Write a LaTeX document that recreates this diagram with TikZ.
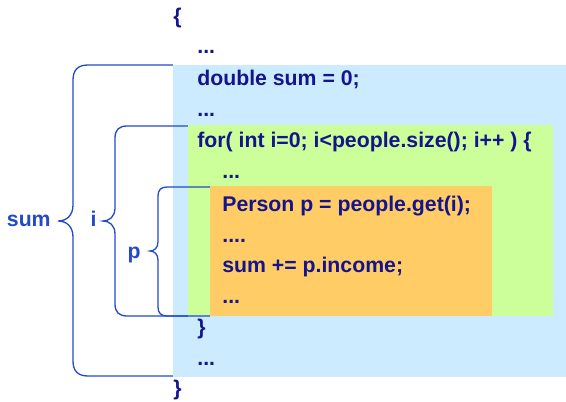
\documentclass[tikz,border=0pt]{standalone}
\usepackage{fontspec}
\setmainfont{Liberation Sans}

\definecolor{codeblue}{RGB}{20,20,140}
\definecolor{bracecol}{RGB}{35,75,200}
\definecolor{sumbg}{RGB}{204,235,255}
\definecolor{forbg}{RGB}{204,255,153}
\definecolor{personbg}{RGB}{255,204,102}

\tikzset{
  code/.style={anchor=base west, inner sep=0, text=codeblue,
    font=\fontsize{12.1}{14}\selectfont\bfseries},
  scopelabel/.style={anchor=base east, inner sep=0, text=bracecol,
    font=\fontsize{12.1}{14}\selectfont\bfseries},
  brace/.style={draw=bracecol, line width=0.75pt}
}

\begin{document}
\begin{tikzpicture}[x=0.02cm, y=-0.02cm]

    \useasboundingbox (0,0) rectangle (566,402);

    %% Scope areas
    \fill[sumbg] (173,65) rectangle (566,377);
    \fill[forbg] (188,125) rectangle (553,316);
    \fill[personbg] (210,186) rectangle (492,316);

    %% Code
    \node[code] (open)       at (173,24)  {\{};
    \node[code] (dotsa)      at (197,54)  {...};
    \node[code] (sumdecl)    at (197,86)  {double sum = 0;};
    \node[code] (dotsb)      at (197,117) {...};
    \node[code] (forhead)    at (197,148) {for( int i=0; i<people.size(); i++ ) \{};
    \node[code] (dotsc)      at (222,179) {...};
    \node[code] (persondecl) at (222,212) {Person p = people.get(i);};
    \node[code] (dotsd)      at (222,243) {....};
    \node[code] (sumadd)     at (222,273) {sum += p.income;};
    \node[code] (dotse)      at (222,304) {...};
    \node[code] (forclose)   at (197,335) {\}};
    \node[code] (dotsf)      at (197,366) {...};
    \node[code] (close)      at (173,396) {\}};

    %% Braces

    % sum
    \coordinate (sumtip) at (58,221);
    \draw[brace] (173,65) -- (88,65) .. controls (78,65) and (73,70) .. (73,80)
        -- (73,205) .. controls (73,216) and (66,221) .. (sumtip)
        .. controls (66,221) and (73,226) .. (73,237)
        -- (73,361) .. controls (73,371) and (78,376) .. (88,376) -- (173,376);
    \node[scopelabel] (sumlbl) at (51,227) {sum};

    % i
    \coordinate (itip) at (103,221);
    \draw[brace] (188,126) -- (127,126) .. controls (119,126) and (115,130) .. (115,138)
        -- (115,208) .. controls (115,217) and (109,221) .. (itip)
        .. controls (109,221) and (115,225) .. (115,234)
        -- (115,304) .. controls (115,312) and (119,316) .. (127,316) -- (188,316);
    \node[scopelabel] (ilbl) at (97,227) {i};

    % p
    \coordinate (ptip) at (150,251);
    \draw[brace] (210,187) -- (167,187) .. controls (161,187) and (158,190) .. (158,196)
        -- (158,242) .. controls (158,248) and (154,251) .. (ptip)
        .. controls (154,251) and (158,254) .. (158,260)
        -- (158,307) .. controls (158,313) and (161,316) .. (167,316) -- (210,316);
    \node[scopelabel] (plbl) at (141,259) {p};

\end{tikzpicture}
\end{document}
